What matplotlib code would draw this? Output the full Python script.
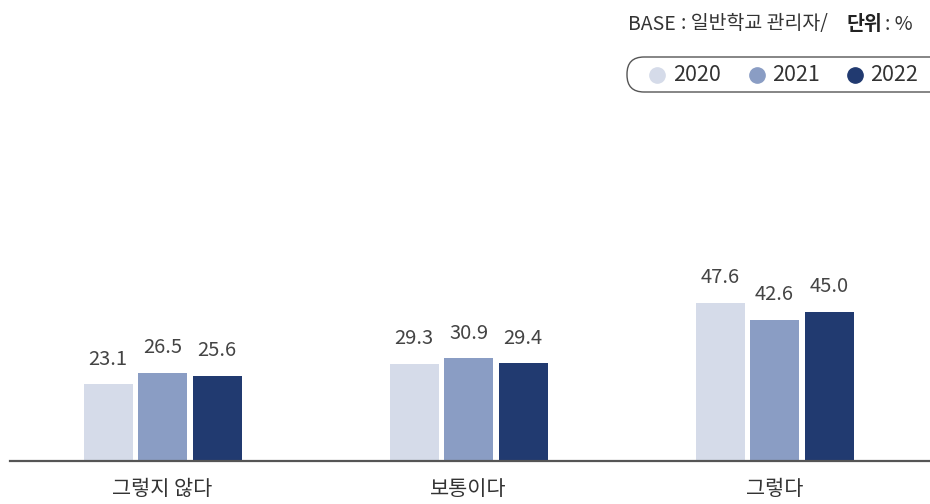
import matplotlib.pyplot as plt
from matplotlib.patches import FancyBboxPatch

plt.rcParams['font.family'] = ['Noto Sans CJK KR', 'DejaVu Sans']

categories = ['그렇지 않다', '보통이다', '그렇다']
years = ['2020', '2021', '2022']
values = {
    '2020': [23.1, 29.3, 47.6],
    '2021': [26.5, 30.9, 42.6],
    '2022': [25.6, 29.4, 45.0],
}
colors = ['#d5dbe9', '#8a9dc4', '#213a70']

W, H = 930, 504
fig = plt.figure(figsize=(W / 100, H / 100), dpi=100)
ax = fig.add_axes([10 / W, 43 / H, 920 / W, 461 / H])

group_step = 306
bar_step = 54.5
bar_w = 49
for j, yr in enumerate(years):
    xs = [162.5 + i * group_step + (j - 1) * bar_step for i in range(len(categories))]
    bars = ax.bar(xs, values[yr], width=bar_w, color=colors[j], zorder=2)
    for b, v in zip(bars, values[yr]):
        ax.annotate(f'{v:.1f}', (b.get_x() + b.get_width() / 2, v),
                    xytext=(0, 10.5), textcoords='offset points',
                    ha='center', va='bottom', fontsize=14.5, color='#444444')

ax.set_xlim(10, 930)
ax.set_ylim(0, 461 / 3.32)
for s in ['top', 'right', 'left']:
    ax.spines[s].set_visible(False)
ax.spines['bottom'].set_color('#555555')
ax.spines['bottom'].set_linewidth(1.6)
ax.set_yticks([])
ax.set_xticks([162.5 + i * group_step for i in range(len(categories))])
ax.set_xticklabels(categories, fontsize=15, color='#333333')
ax.tick_params(axis='x', length=0, pad=12)

# overlay in pixel units for the header note and legend pill
ov = fig.add_axes([0, 0, 1, 1], zorder=5)
ov.set_xlim(0, W)
ov.set_ylim(H, 0)
ov.axis('off')

ty = 24
ov.text(628, ty, 'BASE', fontsize=14, fontweight='medium',
        color='#333333', ha='left', va='center')
ov.text(681, ty, ': 일반학교 관리자/', fontsize=14,
        color='#333333', ha='left', va='center')
ov.text(846, ty, '단위', fontsize=14, fontweight='bold',
        color='#222222', ha='left', va='center')
ov.text(885, ty, ': %', fontsize=14,
        color='#333333', ha='left', va='center')

box = FancyBboxPatch((627, 57), 330, 35,
                     boxstyle='round,pad=0,rounding_size=17',
                     facecolor='white', edgecolor='#555555', linewidth=1.0)
ov.add_patch(box)
marker_x = [657, 757, 855]
text_x = [673, 772, 870]
ly = 75
for c, yr, mx, tx in zip(colors, years, marker_x, text_x):
    ov.plot([mx], [ly], marker='o', markersize=11, linestyle='',
            markerfacecolor=c, markeredgecolor=c)
    ov.text(tx, ly, yr, fontsize=15.5, color='#333333',
            ha='left', va='center')

fig.savefig('out.png', dpi=100)
